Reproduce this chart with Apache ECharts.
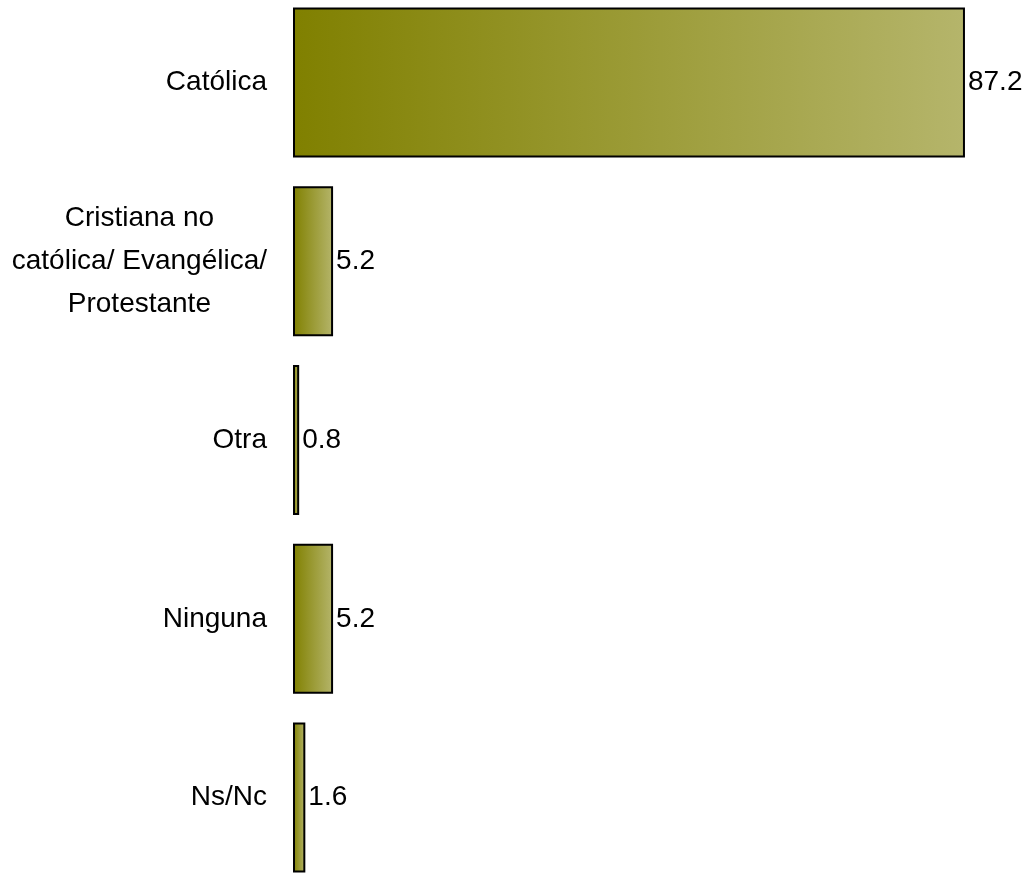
<!DOCTYPE html>
<html>
<head>
<meta charset="utf-8">
<script src="https://cdn.jsdelivr.net/npm/echarts@6/dist/echarts.min.js"></script>
<style>
  html, body { margin: 0; padding: 0; background: #ffffff; }
  #chart { width: 1031px; height: 873px; }
</style>
</head>
<body>
<div id="chart"></div>
<script>
// Religion categories, top to bottom
const categories = [
  'Católica',
  'Cristiana no\ncatólica/ Evangélica/\nProtestante',
  'Otra',
  'Ninguna',
  'Ns/Nc'
];
// Percentages per category
const values = [87.2, 5.2, 0.8, 5.2, 1.6];

const chart = echarts.init(document.getElementById('chart'), null, { renderer: 'canvas' });

const fontFamily = '"Liberation Sans", Arial, sans-serif';

chart.setOption({
  animation: false,
  backgroundColor: '#ffffff',
  grid: {
    left: 293,
    top: -7,
    width: 770.6,
    height: 894,
    outerBoundsMode: 'none'
  },
  xAxis: {
    type: 'value',
    min: 0,
    max: 100,
    show: false
  },
  yAxis: {
    type: 'category',
    data: categories,
    inverse: true,
    axisLine: { show: false },
    axisTick: { show: false },
    splitLine: { show: false },
    axisLabel: {
      margin: 26,
      color: '#000000',
      fontFamily: fontFamily,
      fontSize: 28,
      lineHeight: 43,
      formatter: function (v) {
        // centre each line inside the right-aligned label block
        return v.split('\n').map(function (s) { return '{c|' + s + '}'; }).join('\n');
      },
      rich: {
        c: { align: 'center', fontFamily: fontFamily, fontSize: 28, lineHeight: 43, color: '#000000' }
      }
    }
  },
  series: [{
    type: 'bar',
    data: values,
    barCategoryGap: '16.1%',
    itemStyle: {
      color: new echarts.graphic.LinearGradient(0, 0, 1, 0, [
        { offset: 0, color: '#808000' },
        { offset: 1, color: '#b5b56b' }
      ]),
      borderColor: '#000000',
      borderWidth: 2
    },
    label: {
      show: true,
      position: 'right',
      distance: 3,
      color: '#000000',
      fontFamily: fontFamily,
      fontSize: 28,
      formatter: function (p) { return p.value.toFixed(1); }
    }
  }]
});
</script>
</body>
</html>
